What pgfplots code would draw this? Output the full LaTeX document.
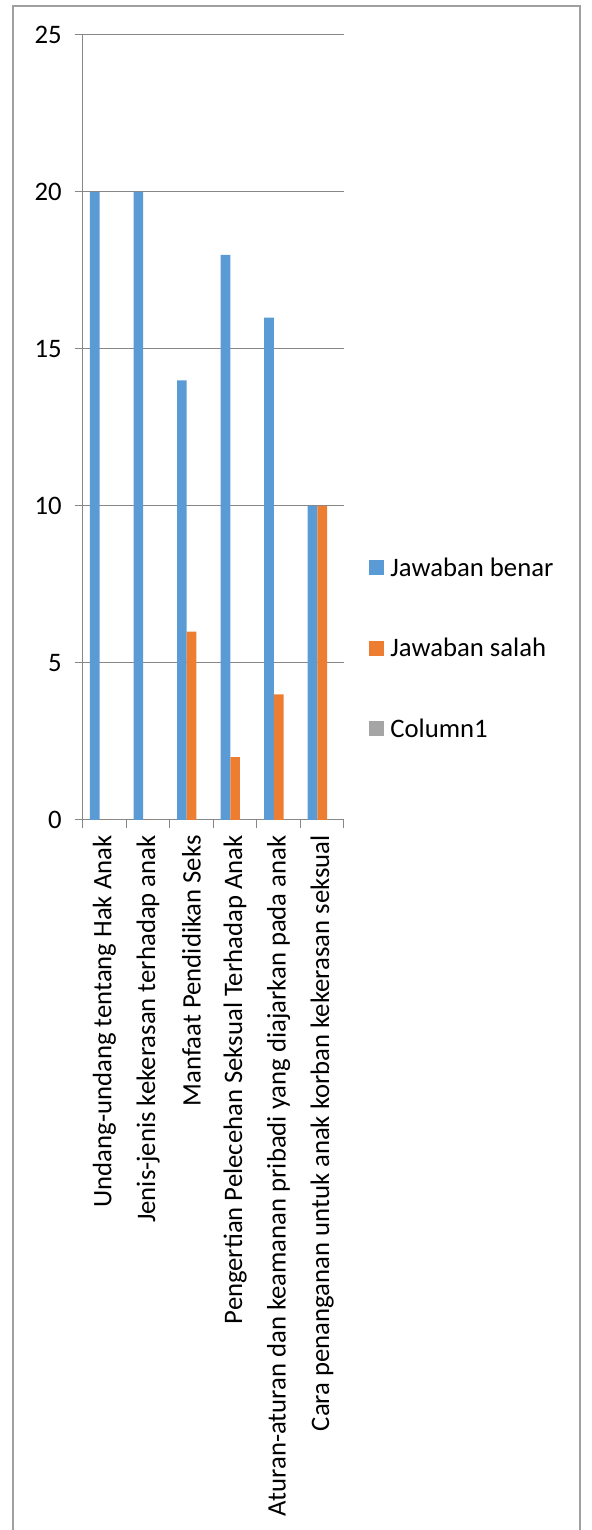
\documentclass[border=0pt]{standalone}
\usepackage{fontspec}
\setmainfont{Carlito}
\usepackage{pgfplots}
\pgfplotsset{compat=1.18}
\definecolor{cblue}{HTML}{5B9BD5}
\definecolor{corange}{HTML}{ED7D31}
\definecolor{cgray}{HTML}{A5A5A5}
\definecolor{axgray}{HTML}{878787}
\definecolor{frgray}{HTML}{A0A0A0}
\begin{document}
\begin{tikzpicture}
\useasboundingbox (0,0) rectangle (296pt,765pt);
\draw[frgray, line width=0.6pt] (6.5pt,-2pt) -- (6.5pt,762pt) -- (290pt,762pt) -- (290pt,-2pt);
\begin{axis}[
  at={(41.35pt,355pt)}, anchor=south west,
  scale only axis, width=130.65pt, height=392.5pt,
  ybar, bar width=0.2222,
  xmin=-0.5, xmax=5.5, ymin=0, ymax=25,
  axis x line=bottom, axis y line=left,
  axis line style={axgray, line width=0.5pt, -},
  xtick={0,...,5},
  xticklabels={Undang-undang tentang Hak Anak, Jenis-jenis kekerasan terhadap anak, Manfaat Pendidikan Seks, Pengertian Pelecehan Seksual Terhadap Anak, Aturan-aturan dan keamanan pribadi yang diajarkan pada anak, Cara penanganan untuk anak korban kekerasan seksual},
  ytick={0,5,...,25},
  minor xtick={-0.5,0.5,...,5.5},
  minor ytick={0,5,...,25},
  major tick length=0pt, minor tick length=4pt,
  tick align=outside,
  tick style={axgray, line width=0.5pt},
  ymajorgrids=true,
  grid style={axgray, line width=0.5pt},
  /pgf/number format/assume math mode=true,
  tick label style={font=\fontsize{13.35}{16}\selectfont, text=black},
  yticklabel style={anchor=east, inner sep=0pt, xshift=-10.35pt},
  xticklabel style={yshift=-7.5pt, rotate=90, anchor=east, inner sep=0pt},
  legend style={draw=none, fill=none, at={(1.0957,0.2177)}, anchor=west,
    font=\fontsize{13.35}{16}\selectfont, inner sep=0pt, row sep=29.5pt, column sep=3pt,
    nodes={inner sep=0pt}},
  legend cell align=left,
  legend image code/.code={\fill[#1] (0pt,-3.3pt) rectangle (7.5pt,4.2pt);},
]
\addplot[fill=cblue, draw=none, bar shift=-0.2222] coordinates {(0,20) (1,20) (2,14) (3,18) (4,16) (5,10)};
\addplot[fill=corange, draw=none, bar shift=0] coordinates {(0,0) (1,0) (2,6) (3,2) (4,4) (5,10)};
\addplot[fill=cgray, draw=none, bar shift=0.2222] coordinates {(0,0) (1,0) (2,0) (3,0) (4,0) (5,0)};
\legend{Jawaban benar, Jawaban salah, Column1}
\end{axis}
\end{tikzpicture}
\end{document}
